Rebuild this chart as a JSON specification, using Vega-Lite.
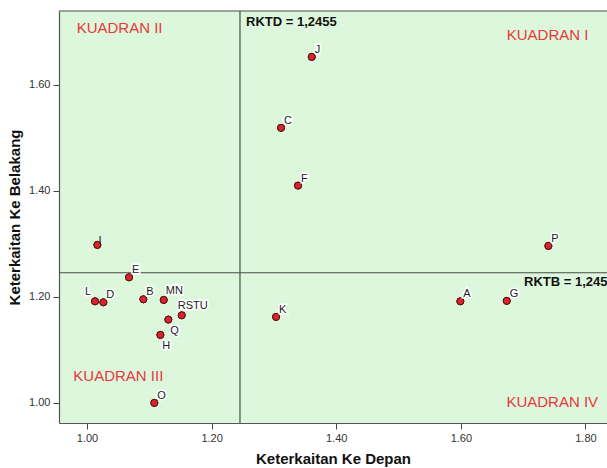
{
  "$schema": "https://vega.github.io/schema/vega-lite/v6.json",
  "autosize": "none",
  "padding": {"left": 59, "top": 11, "right": 0, "bottom": 45},
  "width": 548,
  "height": 412,
  "config": {
    "view": {"stroke": null, "fill": "#dcf7dc"},
    "font": "Liberation Sans",
    "axis": {
      "grid": false,
      "domain": true,
      "ticks": true,
      "domainColor": "#555555",
      "domainWidth": 1.2,
      "tickColor": "#444444",
      "tickWidth": 1,
      "labelColor": "#333333",
      "labelFont": "Liberation Sans",
      "labelFontSize": 11,
      "titleFont": "Liberation Sans",
      "titleFontSize": 15,
      "titleFontWeight": "bold",
      "titleColor": "#111111",
      "tickSize": 6
    }
  },
  "datasets": {
    "pts": [
      {"sektor": "A", "depan": 1.5992, "belakang": 1.1917},
      {"sektor": "B", "depan": 1.0904, "belakang": 1.1955},
      {"sektor": "C", "depan": 1.3114, "belakang": 1.5186},
      {"sektor": "D", "depan": 1.0262, "belakang": 1.1898},
      {"sektor": "E", "depan": 1.0674, "belakang": 1.2369},
      {"sektor": "F", "depan": 1.3387, "belakang": 1.4098},
      {"sektor": "G", "depan": 1.6737, "belakang": 1.1925},
      {"sektor": "H", "depan": 1.1177, "belakang": 1.1284},
      {"sektor": "I", "depan": 1.0166, "belakang": 1.2980},
      {"sektor": "J", "depan": 1.3607, "belakang": 1.6524},
      {"sektor": "K", "depan": 1.3034, "belakang": 1.1623},
      {"sektor": "L", "depan": 1.0128, "belakang": 1.1917},
      {"sektor": "MN", "depan": 1.1231, "belakang": 1.1943},
      {"sektor": "O", "depan": 1.1080, "belakang": 1.0002},
      {"sektor": "P", "depan": 1.7405, "belakang": 1.2961},
      {"sektor": "Q", "depan": 1.1305, "belakang": 1.1572},
      {"sektor": "RSTU", "depan": 1.1520, "belakang": 1.1653}
    ],
    "kuadran": [
      {"teks": "KUADRAN I", "depan": 1.7392, "belakang": 1.6944},
      {"teks": "KUADRAN II", "depan": 1.0522, "belakang": 1.7063},
      {"teks": "KUADRAN III", "depan": 1.0502, "belakang": 1.0517},
      {"teks": "KUADRAN IV", "depan": 1.7467, "belakang": 1.0021}
    ],
    "garis": [
      {"teks": "RKTD = 1,2455", "depan": 1.2552, "belakang": 1.719},
      {"teks": "RKTB = 1,2455", "depan": 1.7014, "belakang": 1.2275}
    ],
    "batas": [
      {"sumbu": "atas", "nilai": 1.7389},
      {"sumbu": "rktb", "nilai": 1.2455}
    ],
    "batasx": [
      {"sumbu": "rktd", "nilai": 1.2455}
    ]
  },
  "layer": [
    {
      "data": {"name": "pts"},
      "mark": {"type": "point", "filled": true, "shape": "circle", "size": 50, "color": "#e0222a", "stroke": "#4a1515", "strokeWidth": 1, "opacity": 1},
      "encoding": {
        "x": {
          "field": "depan", "type": "quantitative",
          "scale": {"domain": [0.955, 1.8346], "nice": false, "zero": false},
          "axis": {"title": "Keterkaitan Ke Depan", "values": [1.0, 1.2, 1.4, 1.6, 1.8], "format": ".2f", "labelPadding": 3, "titlePadding": 8}
        },
        "y": {
          "field": "belakang", "type": "quantitative",
          "scale": {"domain": [0.9623, 1.7389], "nice": false, "zero": false},
          "axis": {"title": "Keterkaitan Ke Belakang", "values": [1.0, 1.2, 1.4, 1.6], "format": ".2f", "labelPadding": 3, "titlePadding": 6}
        }
      }
    },
    {
      "data": {"name": "batas"},
      "mark": {"type": "rule", "stroke": "#4a4a4a", "strokeWidth": 1.2},
      "encoding": {"y": {"field": "nilai", "type": "quantitative"}}
    },
    {
      "data": {"name": "batasx"},
      "mark": {"type": "rule", "stroke": "#4a4a4a", "strokeWidth": 1.2},
      "encoding": {"x": {"field": "nilai", "type": "quantitative"}}
    },
    {
      "data": {"name": "pts"},
      "mark": {"type": "point", "filled": true, "shape": "circle", "size": 50, "color": "#e0222a", "stroke": "#4a1515", "strokeWidth": 1, "opacity": 1},
      "encoding": {"x": {"field": "depan", "type": "quantitative"}, "y": {"field": "belakang", "type": "quantitative"}}
    },
    {
      "data": {"name": "pts"},
      "transform": [{"filter": {"field": "sektor", "oneOf": ["A", "B", "C", "D", "E", "F", "G", "J", "K", "O", "P"]}}],
      "mark": {"type": "text", "align": "left", "baseline": "middle", "dx": 3, "dy": -7, "fontSize": 11, "color": "#ffffff", "stroke": "#ffffff", "strokeWidth": 3},
      "encoding": {"x": {"field": "depan", "type": "quantitative"}, "y": {"field": "belakang", "type": "quantitative"}, "text": {"field": "sektor"}}
    },
    {
      "data": {"name": "pts"},
      "transform": [{"filter": {"field": "sektor", "oneOf": ["A", "B", "C", "D", "E", "F", "G", "J", "K", "O", "P"]}}],
      "mark": {"type": "text", "align": "left", "baseline": "middle", "dx": 3, "dy": -7, "fontSize": 11, "color": "#222222"},
      "encoding": {"x": {"field": "depan", "type": "quantitative"}, "y": {"field": "belakang", "type": "quantitative"}, "text": {"field": "sektor"}}
    },
    {
      "data": {"name": "pts"},
      "transform": [{"filter": {"field": "sektor", "oneOf": ["I"]}}],
      "mark": {"type": "text", "align": "left", "baseline": "middle", "dx": 1, "dy": -4, "fontSize": 11, "color": "#222222"},
      "encoding": {"x": {"field": "depan", "type": "quantitative"}, "y": {"field": "belakang", "type": "quantitative"}, "text": {"field": "sektor"}}
    },
    {
      "data": {"name": "pts"},
      "transform": [{"filter": {"field": "sektor", "oneOf": ["L"]}}],
      "mark": {"type": "text", "align": "right", "baseline": "middle", "dx": -4, "dy": -9, "fontSize": 11, "color": "#ffffff", "stroke": "#ffffff", "strokeWidth": 3},
      "encoding": {"x": {"field": "depan", "type": "quantitative"}, "y": {"field": "belakang", "type": "quantitative"}, "text": {"field": "sektor"}}
    },
    {
      "data": {"name": "pts"},
      "transform": [{"filter": {"field": "sektor", "oneOf": ["L"]}}],
      "mark": {"type": "text", "align": "right", "baseline": "middle", "dx": -4, "dy": -9, "fontSize": 11, "color": "#222222"},
      "encoding": {"x": {"field": "depan", "type": "quantitative"}, "y": {"field": "belakang", "type": "quantitative"}, "text": {"field": "sektor"}}
    },
    {
      "data": {"name": "pts"},
      "transform": [{"filter": {"field": "sektor", "oneOf": ["MN"]}}],
      "mark": {"type": "text", "align": "left", "baseline": "middle", "dx": 2, "dy": -9, "fontSize": 11, "color": "#ffffff", "stroke": "#ffffff", "strokeWidth": 3},
      "encoding": {"x": {"field": "depan", "type": "quantitative"}, "y": {"field": "belakang", "type": "quantitative"}, "text": {"field": "sektor"}}
    },
    {
      "data": {"name": "pts"},
      "transform": [{"filter": {"field": "sektor", "oneOf": ["MN"]}}],
      "mark": {"type": "text", "align": "left", "baseline": "middle", "dx": 2, "dy": -9, "fontSize": 11, "color": "#222222"},
      "encoding": {"x": {"field": "depan", "type": "quantitative"}, "y": {"field": "belakang", "type": "quantitative"}, "text": {"field": "sektor"}}
    },
    {
      "data": {"name": "pts"},
      "transform": [{"filter": {"field": "sektor", "oneOf": ["RSTU"]}}],
      "mark": {"type": "text", "align": "left", "baseline": "middle", "dx": -4, "dy": -9, "fontSize": 11, "color": "#ffffff", "stroke": "#ffffff", "strokeWidth": 3},
      "encoding": {"x": {"field": "depan", "type": "quantitative"}, "y": {"field": "belakang", "type": "quantitative"}, "text": {"field": "sektor"}}
    },
    {
      "data": {"name": "pts"},
      "transform": [{"filter": {"field": "sektor", "oneOf": ["RSTU"]}}],
      "mark": {"type": "text", "align": "left", "baseline": "middle", "dx": -4, "dy": -9, "fontSize": 11, "color": "#222222"},
      "encoding": {"x": {"field": "depan", "type": "quantitative"}, "y": {"field": "belakang", "type": "quantitative"}, "text": {"field": "sektor"}}
    },
    {
      "data": {"name": "pts"},
      "transform": [{"filter": {"field": "sektor", "oneOf": ["Q", "H"]}}],
      "mark": {"type": "text", "align": "left", "baseline": "middle", "dx": 2, "dy": 11, "fontSize": 11, "color": "#ffffff", "stroke": "#ffffff", "strokeWidth": 3},
      "encoding": {"x": {"field": "depan", "type": "quantitative"}, "y": {"field": "belakang", "type": "quantitative"}, "text": {"field": "sektor"}}
    },
    {
      "data": {"name": "pts"},
      "transform": [{"filter": {"field": "sektor", "oneOf": ["Q", "H"]}}],
      "mark": {"type": "text", "align": "left", "baseline": "middle", "dx": 2, "dy": 11, "fontSize": 11, "color": "#222222"},
      "encoding": {"x": {"field": "depan", "type": "quantitative"}, "y": {"field": "belakang", "type": "quantitative"}, "text": {"field": "sektor"}}
    },
    {
      "data": {"name": "kuadran"},
      "mark": {"type": "text", "align": "center", "baseline": "middle", "fontSize": 15, "color": "#e8373d"},
      "encoding": {"x": {"field": "depan", "type": "quantitative"}, "y": {"field": "belakang", "type": "quantitative"}, "text": {"field": "teks"}}
    },
    {
      "data": {"name": "garis"},
      "mark": {"type": "text", "align": "left", "baseline": "middle", "fontSize": 13, "fontWeight": "bold", "color": "#111111"},
      "encoding": {"x": {"field": "depan", "type": "quantitative"}, "y": {"field": "belakang", "type": "quantitative"}, "text": {"field": "teks"}}
    }
  ]
}
